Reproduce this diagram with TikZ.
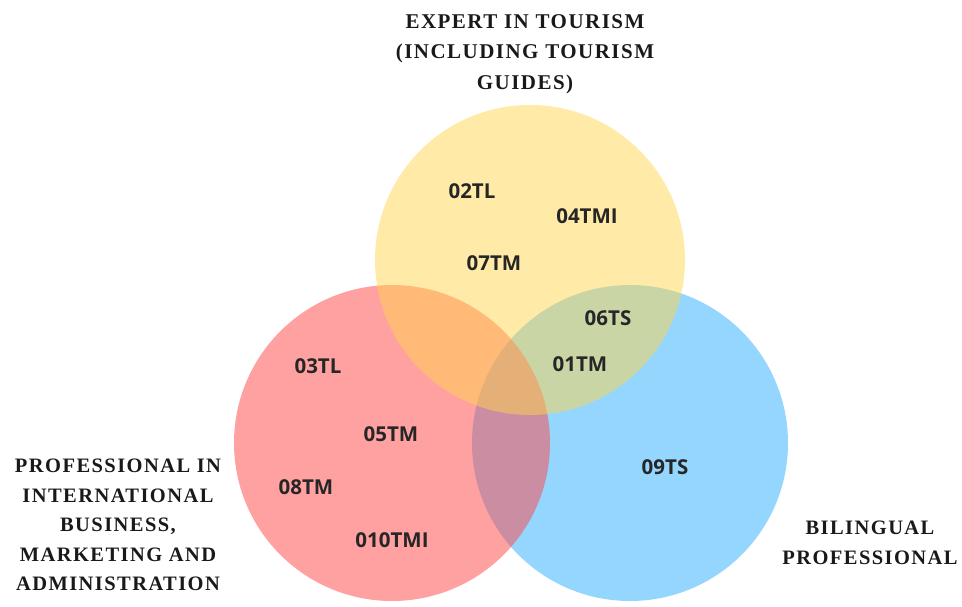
\documentclass[tikz,border=0pt]{standalone}
\usepackage{fontspec}
\newfontfamily\headfont{Liberation Serif}[LetterSpace=7]
\newfontfamily\codefont{Open Sans}
\definecolor{setyellow}{RGB}{255,213,79}
\definecolor{setred}{RGB}{255,68,68}
\definecolor{setblue}{RGB}{43,173,255}

\begin{document}
\begin{tikzpicture}[x=1pt,y=-1pt,
	set/.style={fill=#1,fill opacity=0.5,draw=none},
	head/.style={align=center,text=black!90,font=\headfont\bfseries\fontsize{21}{30.5}\selectfont},
	code/.style={text=black!85,font=\codefont\bfseries\fontsize{20.5}{24}\selectfont}]
\useasboundingbox (0,0) rectangle (962,607);
\clip (0,0) rectangle (962,607);
\fill[set=setblue] (630,443) circle (158);
\fill[set=setred] (392,443) circle (158);
\fill[set=setyellow] (530,260) circle (155);
\node[head] (tourism) at (525,54) {EXPERT IN TOURISM\\(INCLUDING TOURISM\\GUIDES)};
\node[head,font=\headfont\bfseries\fontsize{20.5}{29.5}\selectfont] (business) at (118,525) {PROFESSIONAL IN\\INTERNATIONAL\\BUSINESS,\\MARKETING AND\\ADMINISTRATION};
\node[head,font=\headfont\bfseries\fontsize{20.5}{29.5}\selectfont] (bilingual) at (870,543) {BILINGUAL\\PROFESSIONAL};
\node[code] (tl02) at (472,191) {02TL};
\node[code] (tmi04) at (587,216) {04TMI};
\node[code] (tm07) at (494,263) {07TM};
\node[code] (ts06) at (608,318) {06TS};
\node[code] (tm01) at (580,364) {01TM};
\node[code] (tl03) at (318,366) {03TL};
\node[code] (tm05) at (391,434) {05TM};
\node[code] (tm08) at (306,487) {08TM};
\node[code] (tmi010) at (392,540) {010TMI};
\node[code] (ts09) at (665,467) {09TS};
\end{tikzpicture}
\end{document}
